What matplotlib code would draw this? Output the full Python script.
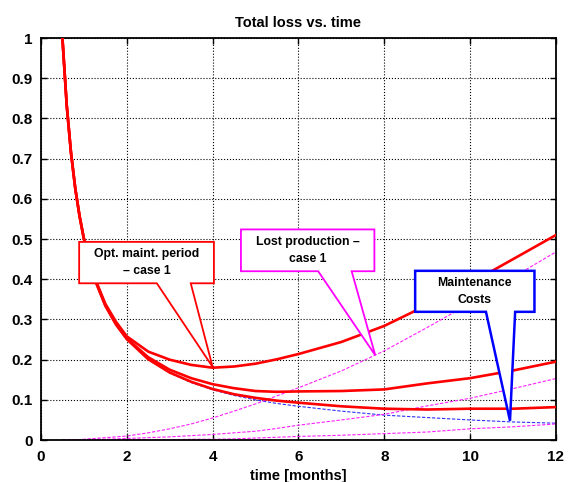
import matplotlib
matplotlib.use('Agg')
import matplotlib.pyplot as plt
from matplotlib.patches import Polygon

plt.rcParams['font.family'] = ['Liberation Sans', 'DejaVu Sans']
plt.rcParams['font.weight'] = 'bold'

# time axis (months)
t = [0.5, 0.6, 0.7, 0.8, 0.9, 1.0, 1.25, 1.5, 1.75, 2.0, 2.5, 3.0, 3.5,
     4.0, 4.5, 5.0, 5.5, 6.0, 7.0, 8.0, 9.0, 10.0, 11.0, 12.0]

# maintenance costs (blue)
maint = [1.0, 0.833, 0.714, 0.625, 0.556, 0.5, 0.4, 0.333, 0.286, 0.25, 0.2,
         0.167, 0.143, 0.125, 0.111, 0.1, 0.091, 0.084, 0.072, 0.062, 0.056,
         0.05, 0.045, 0.042]

# lost production (magenta), three cases
lost_1 = [0.0, 0.0, 0.001, 0.001, 0.001, 0.002, 0.004, 0.006, 0.008, 0.01,
          0.018, 0.028, 0.04, 0.055, 0.072, 0.09, 0.11, 0.13, 0.172, 0.222,
          0.28, 0.34, 0.405, 0.468]
lost_2 = [0.0, 0.0, 0.0, 0.0, 0.001, 0.001, 0.002, 0.002, 0.003, 0.004,
          0.006, 0.008, 0.011, 0.014, 0.018, 0.022, 0.029, 0.037, 0.05, 0.064,
          0.085, 0.104, 0.128, 0.153]
lost_3 = [0.0, 0.0, 0.0, 0.0, 0.0, 0.0, 0.0, 0.001, 0.001, 0.001, 0.001,
          0.001, 0.002, 0.002, 0.003, 0.005, 0.007, 0.009, 0.012, 0.016, 0.02,
          0.028, 0.033, 0.04]

# total loss (red), three cases
total_1 = [1.0, 0.833, 0.715, 0.626, 0.557, 0.502, 0.404, 0.339, 0.294, 0.258,
           0.22, 0.2, 0.187, 0.18, 0.183, 0.19, 0.201, 0.214, 0.244, 0.284,
           0.336, 0.39, 0.45, 0.51]
total_2 = [1.0, 0.833, 0.714, 0.625, 0.557, 0.501, 0.402, 0.335, 0.289, 0.253,
           0.206, 0.175, 0.154, 0.139, 0.129, 0.122, 0.12, 0.121, 0.122, 0.126,
           0.141, 0.154, 0.173, 0.195]
total_3 = [1.0, 0.833, 0.714, 0.625, 0.556, 0.5, 0.4, 0.334, 0.287, 0.251,
           0.201, 0.168, 0.145, 0.127, 0.114, 0.105, 0.098, 0.093, 0.084, 0.078,
           0.076, 0.078, 0.078, 0.082]

xticks = [0, 2, 4, 6, 8, 10, 12]
yticks = [0, 0.1, 0.2, 0.3, 0.4, 0.5, 0.6, 0.7, 0.8, 0.9, 1]
ytick_labels = ['0', '0.1', '0.2', '0.3', '0.4', '0.5', '0.6', '0.7', '0.8', '0.9', '1']

fig = plt.figure(figsize=(5.69, 4.82), dpi=100)
ax = fig.add_axes([0.072, 0.087, 0.905, 0.834])

dash = (0, (3, 1.5))
ax.plot(t, maint, color='#3030ff', lw=0.8, ls=dash, zorder=2)
for lost in (lost_1, lost_2, lost_3):
    ax.plot(t, lost, color='#ff20ff', lw=0.8, ls=dash, zorder=2)
for total in (total_1, total_2, total_3):
    ax.plot(t, total, color='#ff0000', lw=1.9, zorder=3)

ax.set_xlim(0, 12)
ax.set_ylim(0, 1)
ax.set_xticks(xticks)
ax.set_yticks(yticks)
ax.set_yticklabels(ytick_labels)
ax.tick_params(axis='both', direction='in', length=4, width=1, labelsize=11,
               top=True, right=True)
ax.tick_params(axis='x', pad=7)
ax.tick_params(axis='y', pad=6)
for lab in ax.get_xticklabels() + ax.get_yticklabels():
    lab.set_fontweight('bold')
ax.grid(True, color='black', ls=':', lw=0.8)
for sp in ax.spines.values():
    sp.set_linewidth(1.3)

ax.set_title('Total loss vs. time', fontsize=10.5, fontweight='bold', pad=8)
ax.set_xlabel('time [months]', fontsize=10.5, fontweight='bold', labelpad=4)


# callout boxes: (left, right, bottom, top), pointer base (a, b), tip
def callout(x0, x1, y0, y1, a, b, tip, text, color, lw):
    pts = [(x0, y1), (x1, y1), (x1, y0), (b, y0), tip, (a, y0), (x0, y0)]
    ax.add_patch(Polygon(pts, closed=True, facecolor='white', edgecolor=color,
                         lw=lw, zorder=5, clip_on=False))
    ax.text((x0 + x1) / 2, (y0 + y1) / 2, text, ha='center', va='center',
            fontsize=8.8, fontweight='bold', linespacing=1.55, zorder=6)


callout(0.89, 4.03, 0.390, 0.493, 2.70, 3.49, (4.0, 0.182),
        'Opt. maint. period\n\u2013 case 1', '#ff0000', 1.3)
callout(4.66, 7.77, 0.420, 0.524, 6.46, 7.24, (7.79, 0.211),
        'Lost production \u2013\ncase 1', '#ff00ff', 1.3)
callout(8.72, 11.50, 0.319, 0.421, 10.37, 11.05, (10.93, 0.048),
        'Maintenance\nCosts', '#0000ff', 1.8)

fig.savefig('out.png', dpi=100)
